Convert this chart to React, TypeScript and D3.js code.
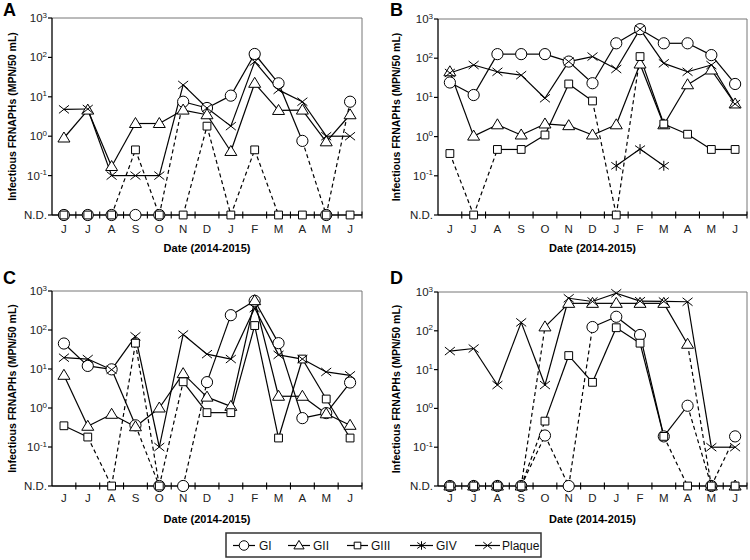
import React from "react";
import * as d3 from "d3";

// ---------- data ----------
const months = ["J", "J", "A", "S", "O", "N", "D", "J", "F", "M", "A", "M", "J"];
const yTickExponents = [3, 2, 1, 0, -1];
const ndLabel = "N.D.";
const ND = 0; // not detected
const seriesNames = ["GI", "GII", "GIII", "GIV", "Plaque"];
const seriesMarkers = ["circle", "triangle", "square", "asterisk", "x"];
const panelLetters = ["A", "B", "C", "D"];
const yTitle = "Infectious FRNAPHs (MPN/50 mL)";
const xTitle = "Date (2014-2015)";

type V = number | null;
const n = null;

const panelA_GI: V[] = [ND, ND, ND, ND, ND, 7.5, 5.2, 10.7, 122, 22, 0.76, ND, 7.5];
const panelA_GII: V[] = [0.9, 4.6, 0.17, 2.1, 2.1, 4.6, 3.5, 0.41, 22, 4.5, 4.6, 0.72, 3.5];
const panelA_GIII: V[] = [ND, ND, ND, 0.45, ND, ND, 1.8, ND, 0.45, ND, ND, ND, ND];
const panelA_GIV: V[] = [n, n, n, n, n, n, n, n, n, n, n, n, n];
const panelA_Plaque: V[] = [4.8, 4.9, 0.1, 0.1, 0.1, 20, 5.2, 1.8, 78, 15, 7.5, 1.0, 1.0];

const panelB_GI: V[] = [24, 11.5, 127, 127, 127, 82, 23, 240, 550, 240, 240, 120, 22];
const panelB_GII: V[] = [45, 1.03, 2.0, 1.1, 2.1, 1.9, 1.1, 2.0, 71, 2.0, 21, 50, 6.8];
const panelB_GIII: V[] = [0.37, ND, 0.47, 0.47, 1.1, 22, 8.1, ND, 110, 2.1, 1.15, 0.47, 0.47];
const panelB_GIV: V[] = [n, n, n, n, n, n, n, 0.18, 0.48, 0.18, n, n, n];
const panelB_Plaque: V[] = [42, 67, 45, 37, 9.5, 82, 110, 53, 550, 74, 45, 67, 6.8];

const panelC_GI: V[] = [45, 12, 9.8, 0.36, ND, ND, 4.6, 240, 560, 46, 0.55, 0.74, 4.5];
const panelC_GII: V[] = [6.9, 0.34, 0.69, 0.33, 1.0, 7.6, 1.9, 1.1, 565, 2.0, 2.0, 0.71, 0.36];
const panelC_GIII: V[] = [0.35, 0.18, ND, 46, ND, 4.7, 0.76, 0.76, 130, 0.17, 18, 1.7, 0.17];
const panelC_GIV: V[] = [n, n, n, n, n, n, n, n, n, n, n, n, n];
const panelC_Plaque: V[] = [19.5, 18, 9.6, 69, 0.1, 77, 24, 18, 365, 23, 18, 8.4, 6.9];

const panelD_GI: V[] = [ND, ND, ND, ND, 0.2, ND, 125, 230, 78, 0.19, 1.17, ND, 0.19];
const panelD_GII: V[] = [ND, ND, ND, ND, 126, 510, 510, 510, 510, 510, 45, ND, ND];
const panelD_GIII: V[] = [ND, ND, ND, ND, 0.47, 23, 4.7, 120, 48, 0.19, ND, ND, ND];
const panelD_GIV: V[] = [n, n, n, n, n, n, n, n, n, n, n, n, n];
const panelD_Plaque: V[] = [30, 35, 4, 165, 4, 690, 570, 930, 580, 570, 560, 0.1, 0.1];

// ---------- layout ----------
const FONT = "'Liberation Sans', Arial, Helvetica, sans-serif";

const panels = [
  { letter: panelLetters[0], left: 52, right: 362, top: 18, bottom: 215, lx: 3, ly: 16, tx: 12, labOff: 18, titleY: 252,
    data: [panelA_GI, panelA_GII, panelA_GIII, panelA_GIV, panelA_Plaque] },
  { letter: panelLetters[1], left: 438, right: 747, top: 19, bottom: 215, lx: 390, ly: 16, tx: 396, labOff: 18, titleY: 252,
    data: [panelB_GI, panelB_GII, panelB_GIII, panelB_GIV, panelB_Plaque] },
  { letter: panelLetters[2], left: 52, right: 362, top: 291, bottom: 486, lx: 3, ly: 284, tx: 12, labOff: 16, titleY: 523,
    data: [panelC_GI, panelC_GII, panelC_GIII, panelC_GIV, panelC_Plaque] },
  { letter: panelLetters[3], left: 438, right: 747, top: 292, bottom: 486, lx: 390, ly: 284, tx: 396, labOff: 16, titleY: 523,
    data: [panelD_GI, panelD_GII, panelD_GIII, panelD_GIV, panelD_Plaque] },
];

function markerPath(type: string, s = 1): string {
  const p = d3.path();
  if (type === "triangle") {
    p.moveTo(0, -6 * s); p.lineTo(6 * s, 4 * s); p.lineTo(-6 * s, 4 * s); p.closePath();
  } else if (type === "square") {
    p.rect(-3.9 * s, -3.9 * s, 7.8 * s, 7.8 * s);
  } else if (type === "x") {
    const a = 5 * s;
    p.moveTo(-a, -a * 0.8); p.lineTo(a, a * 0.8); p.moveTo(-a, a * 0.8); p.lineTo(a, -a * 0.8);
  } else if (type === "asterisk") {
    const a = 5 * s;
    p.moveTo(0, -a); p.lineTo(0, a);
    p.moveTo(-a, -a * 0.7); p.lineTo(a, a * 0.7); p.moveTo(-a, a * 0.7); p.lineTo(a, -a * 0.7);
  }
  return p.toString();
}

function Marker({ type, x, y, s = 1 }: { type: string; x: number; y: number; s?: number }) {
  if (type === "circle") {
    return <circle cx={x} cy={y} r={5.6 * s} fill="#fff" stroke="#000" strokeWidth={1} />;
  }
  const filled = type === "triangle" || type === "square";
  return (
    <path d={markerPath(type, s)} transform={`translate(${x},${y})`} fill={filled ? "#fff" : "none"}
      stroke="#000" strokeWidth={1} />
  );
}

function Panel({ cfg }: { cfg: (typeof panels)[number] }) {
  const x = d3.scaleBand<number>().domain(d3.range(months.length)).range([cfg.left, cfg.right]);
  const bw = x.bandwidth();
  const cx = (i: number) => (x(i) as number) + bw / 2;
  const y = d3.scaleLog().domain([0.01, 1000]).range([cfg.bottom, cfg.top]);
  const yv = (v: number) => y(v === ND ? 0.01 : v);
  const line = d3.line<[number, number]>();

  const segs: { d: string; dashed: boolean; key: string }[] = [];
  cfg.data.forEach((vals, si) => {
    for (let i = 0; i < vals.length - 1; i++) {
      const a = vals[i], b = vals[i + 1];
      if (a == null || b == null) continue;
      if (a === ND && b === ND) continue;
      segs.push({
        d: line([[cx(i), yv(a)], [cx(i + 1), yv(b)]]) as string,
        dashed: a === ND || b === ND,
        key: `${si}-${i}`,
      });
    }
  });

  const tickVals = yTickExponents.map((e) => Math.pow(10, e));
  return (
    <g>
      {/* frame */}
      <line x1={cfg.left} x2={cfg.right} y1={cfg.top} y2={cfg.top} stroke="#777" strokeWidth={1} />
      <line x1={cfg.right} x2={cfg.right} y1={cfg.top} y2={cfg.bottom} stroke="#777" strokeWidth={1} />
      {/* y axis */}
      <line x1={cfg.left} x2={cfg.left} y1={cfg.top} y2={cfg.bottom} stroke="#000" strokeWidth={1.3} />
      {tickVals.map((t, k) => (
        <g key={k}>
          <line x1={cfg.left - 4} x2={cfg.left} y1={y(t)} y2={y(t)} stroke="#000" strokeWidth={1.2} />
          <text x={cfg.left - 5} y={y(t) + 4} textAnchor="end" fontSize={11.5} fontFamily={FONT} fill="#222">
            10<tspan fontSize={8} dy={-4.5}>{yTickExponents[k]}</tspan>
          </text>
        </g>
      ))}
      <line x1={cfg.left - 4} x2={cfg.left} y1={y(0.01)} y2={y(0.01)} stroke="#000" strokeWidth={1.2} />
      <text x={cfg.left - 5} y={y(0.01) + 4} textAnchor="end" fontSize={11.5} fontFamily={FONT} fill="#222">
        {ndLabel}
      </text>
      {/* x axis */}
      <line x1={cfg.left} x2={cfg.right} y1={cfg.bottom} y2={cfg.bottom} stroke="#000" strokeWidth={1.3} />
      {d3.range(1, months.length + 1).map((i) => (
        <line key={i} x1={cfg.left + i * bw} x2={cfg.left + i * bw} y1={cfg.bottom - 3.5} y2={cfg.bottom + 3.5}
          stroke="#000" strokeWidth={1.1} />
      ))}
      {months.map((m, i) => (
        <text key={i} x={cx(i)} y={cfg.bottom + cfg.labOff} textAnchor="middle" fontSize={11.5} fontFamily={FONT} fill="#222">
          {m}
        </text>
      ))}
      {/* titles */}
      <text x={(cfg.left + cfg.right) / 2} y={cfg.titleY} textAnchor="middle" fontSize={11} fontWeight="bold" fontFamily={FONT}>
        {xTitle}
      </text>
      <text transform={`translate(${cfg.tx + 4},${(cfg.top + cfg.bottom) / 2}) rotate(-90)`} textAnchor="middle"
        fontSize={10.5} fontWeight="bold" fontFamily={FONT}>
        {yTitle}
      </text>
      <text x={cfg.lx} y={cfg.ly} fontSize={18} fontWeight="900" fontFamily={FONT}>
        {cfg.letter}
      </text>
      {/* lines */}
      {segs.map((s) => (
        <path key={s.key} d={s.d} fill="none" stroke="#000" strokeWidth={1.2}
          strokeDasharray={s.dashed ? "4,3" : undefined} />
      ))}
      {/* markers */}
      {cfg.data.map((vals, si) =>
        vals.map((v, i) =>
          v == null ? null : <Marker key={`${si}-${i}`} type={seriesMarkers[si]} x={cx(i)} y={yv(v)} />
        )
      )}
    </g>
  );
}

function Legend() {
  const items = [
    { x1: 233, x2: 255, text: 259 },
    { x1: 288, x2: 310, text: 313 },
    { x1: 347, x2: 368, text: 371 },
    { x1: 410, x2: 433, text: 436 },
    { x1: 475, x2: 500, text: 502 },
  ];
  const ly = 545.5;
  return (
    <g>
      <rect x={226} y={533} width={315} height={24} fill="#fff" stroke="#333" strokeWidth={1.5} />
      {seriesNames.map((name, k) => {
        const it = items[k];
        const mx = (it.x1 + it.x2) / 2;
        return (
          <g key={name}>
            <line x1={it.x1} x2={it.x2} y1={ly} y2={ly} stroke="#000" strokeWidth={1.2} />
            <Marker type={seriesMarkers[k]} x={mx} y={ly} s={0.85} />
            <text x={it.text} y={ly + 4.5} fontSize={12} fontFamily={FONT} fill="#111">
              {name}
            </text>
          </g>
        );
      })}
    </g>
  );
}

export default function App() {
  return (
    <svg width={750} height={560} viewBox="0 0 750 560"
      style={{ position: "absolute", left: 0, top: 0, background: "#fff" }}>
      <rect x={0} y={0} width={750} height={560} fill="#fff" />
      {panels.map((p) => (
        <Panel key={p.letter} cfg={p} />
      ))}
      <Legend />
    </svg>
  );
}
